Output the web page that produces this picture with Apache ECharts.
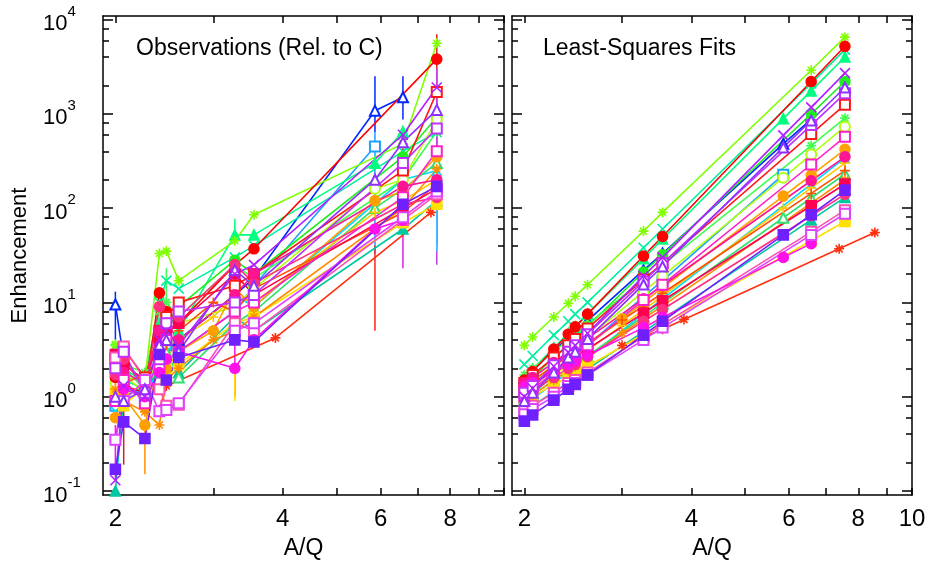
<!DOCTYPE html>
<html>
<head>
<meta charset="utf-8">
<title>Enhancement vs A/Q</title>
<script src="https://cdn.jsdelivr.net/npm/echarts@6/dist/echarts.min.js"></script>
<style>
  html, body { margin: 0; padding: 0; background: #fff; }
  #chart { width: 929px; height: 564px; }
</style>
</head>
<body>
<div id="chart"></div>
<script>
// A/Q columns (one per element group)
const aq = [2.0, 2.07, 2.26, 2.4, 2.47, 2.6, 3.0, 3.28, 3.55, 3.88, 5.86, 6.58, 7.57];

const eventColors = ['#1ca0ff', '#00d8ff', '#0028ff', '#00ff80', '#00f0a0', '#00c8a0', '#30e070', '#20f020',
  '#40ff50', '#b0ff10', '#80ff00', '#ffe000', '#ffc800', '#ffa000', '#ff8c00', '#ff5000',
  '#ff0000', '#ff1818', '#ff0050', '#ff3080', '#ff1493', '#ff50b0', '#ff20c8', '#ff10e8',
  '#e040ff', '#c030ff', '#9030ff', '#b020ff', '#7020ff'];
const eventSymbols = ['sqO', 'x', 'triO', 'triF', 'x', 'triF', 'triO', 'circ',
  'ast', 'circO', 'ast', 'sqF', 'plus', 'circ', 'ast', 'plus',
  'circ', 'sqO', 'sqF', 'circ', 'circ', 'sqO', 'sqO', 'circ',
  'sqO', 'sqO', 'triO', 'x', 'sqF'];

// observed enhancements (left panel), same order as aq; null = not measured
const obsValues = [
  [0.8, 1.4, 1.0, 2.2, 3.5, 3, null, 8, 15, null, 450, null, null],
  [0.7, 1.2, 1.0, 2, 3, 4, null, 12, 9, null, null, 200, 250],
  [9.5, 2.5, 1.3, 3, 4, 4, null, 12, 18, null, 1080, 1500, null],
  [2.2, 1.5, 1.2, 6, 8, 5, null, 52, 52, null, 300, 650, null],
  [2.5, 2.0, 1.4, 10, 17, 14, null, 30, 40, null, null, 400, 640],
  [0.1, 1.0, 1.3, 1.8, 2.2, 1.8, null, 7, 5, null, null, 60, 120],
  [3.2, 2.0, 1.2, 5, 3, 1.6, null, 6, 8, null, 100, 160, 300],
  [1.8, 2.4, 1.3, 5, 6, 9, null, 28, 20, null, null, 350, 920],
  [3.5, 2.2, 1.8, 8, 10, 7, null, 25, 18, null, null, 200, 650],
  [1.4, 1.7, 1.1, 3, 2.5, 6, null, 9, 14, null, 160, 200, 870],
  [3.6, 1.6, 1.5, 33, 35, 17, null, 45, 85, null, null, 480, 5600],
  [1.1, 0.8, 1.3, 2.0, 1.6, 2.2, null, 6, 7, null, null, 70, 110],
  [1.5, 1.1, 1.3, 3, 2.5, 4, 7, 12, 10, null, 90, 120, 200],
  [0.6, 1.0, 0.5, 2.5, 2, 3, 5, 14, 9, null, 120, 150, 350],
  [1.2, 0.9, 0.69, 0.5, 1.5, 2.0, 4, 5, 7, null, null, 100, 260],
  [1.8, 1.4, 1.7, 2.5, 3.5, 5, 10, 8, 14, null, null, 90, 180],
  [1.6, 1.3, 1.1, 12.6, 8, 6, null, 25, 37, null, null, null, 3800],
  [2.5, 3.2, 1.6, 5, 7, 10, null, 15, 20, null, null, 250, 1700],
  [2.8, 2.2, 1.5, 4, 5, 6, null, 20, 12, null, null, 100, 160],
  [1.7, 2.5, 1.2, 9, 4, 7, null, 25, 16, null, null, 110, 130],
  [2.0, 1.8, 1.4, 5, 6, 4, null, 12, 20, null, null, 170, 200],
  [2.6, 3.4, 1.5, 1.2, 0.8, 0.82, null, 6, 5, null, null, 75, 140],
  [0.9, 1.5, 0.85, 2.0, 4, 3, null, 8, 10, null, null, 130, 400],
  [0.35, 1.2, 1.0, 1.8, 2.5, 3, null, 2.0, 4, null, 60, 75, null],
  [0.35, 0.9, 1.5, 0.7, 0.72, 0.85, null, 5, 6, null, null, 80, 150],
  [2.0, 3.0, 1.1, 2.5, 6, 8, null, 10, 12, null, null, 300, 700],
  [1.0, 0.9, 1.2, 3.5, 4, 3, null, 22, 15, null, 200, 500, 1100],
  [0.13, 1.3, 1.0, 4, 5, 3.5, null, 20, 25, null, null, 600, 1900],
  [0.17, 0.54, 0.36, 2.8, 1.5, 2.6, null, 4.0, 3.8, null, null, 110, 170]
];

// least-squares fit values (right panel)
const fitValues = [
  [0.9, 1.07, 1.7, 2.3, 2.7, 3.5, null, 11.5, 17, null, 226, null, null],
  [0.8, 0.94, 1.4, 1.8, 2.1, 2.6, null, 7.6, 10.9, null, null, 180, 340],
  [1.6, 1.9, 3.1, 4.2, 4.9, 6.4, null, 22, 33, null, 480, 875, null],
  [1.6, 1.95, 3.3, 4.7, 5.5, 7.5, null, 29, 47, null, 890, 1750, 4000],
  [2.2, 2.7, 4.5, 6.3, 7.5, 10, null, 38, 60, null, null, 2100, 4800],
  [0.7, 0.8, 1.13, 1.4, 1.6, 1.96, null, 4.9, 6.65, null, null, 75, 130],
  [0.9, 1.04, 1.5, 1.9, 2.2, 2.7, null, 7.1, 9.8, null, 79, 128, 230],
  [1.3, 1.6, 2.6, 3.6, 4.2, 5.6, null, 21, 32, null, null, 1000, 2200],
  [1.7, 2.0, 3.0, 4.0, 4.6, 5.8, null, 17.5, 25, null, null, 460, 900],
  [1.2, 1.4, 2.2, 2.9, 3.3, 4.2, null, 13, 19, null, 210, 370, 730],
  [3.5, 4.3, 7.0, 9.8, 11.6, 15.4, null, 57, 90, null, null, 2900, 6500],
  [0.9, 1.0, 1.35, 1.6, 1.8, 2.1, null, 4.6, 5.9, null, null, 45, 72],
  [1.0, 1.16, 1.7, 2.2, 2.5, 3.1, 5.7, 8.3, 11.7, null, 100, 164, 300],
  [1.1, 1.3, 1.9, 2.5, 2.8, 3.5, 6.7, 10, 14.3, null, 134, 223, 420],
  [0.9, 1.04, 1.5, 1.9, 2.1, 2.6, 4.7, 6.7, 9.2, null, null, 113, 200],
  [1.3, 1.5, 2.1, 2.7, 3.0, 3.7, 6.5, 9.2, 12.5, null, null, 143, 250],
  [1.5, 1.85, 3.2, 4.6, 5.5, 7.5, null, 31, 50, null, null, 2200, 5200],
  [1.4, 1.7, 2.6, 3.5, 4.1, 5.3, null, 17.5, 26, null, null, 610, 1250],
  [1.2, 1.4, 1.9, 2.4, 2.7, 3.2, null, 7.7, 10.4, null, null, 106, 180],
  [1.0, 1.14, 1.6, 2.0, 2.2, 2.65, null, 6.3, 8.4, null, null, 83, 140],
  [1.4, 1.6, 2.3, 3.0, 3.4, 4.15, null, 10.9, 15.1, null, null, 195, 350],
  [0.7, 0.8, 1.1, 1.4, 1.5, 1.8, null, 4.35, 5.8, null, null, 56, 95],
  [1.0, 1.2, 1.8, 2.4, 2.7, 3.5, null, 10.6, 15.4, null, null, 290, 570],
  [1.27, 1.4, 1.8, 2.2, 2.4, 2.75, null, 5.4, 6.9, null, 30, 42, null],
  [0.65, 0.74, 1.0, 1.3, 1.4, 1.7, null, 4.0, 5.4, null, null, 52, 87],
  [1.1, 1.3, 2.15, 3.0, 3.5, 4.6, null, 16.7, 26, null, null, 760, 1650],
  [0.9, 1.1, 1.8, 2.6, 3.0, 4.1, null, 15.5, 24, null, 440, 850, 1900],
  [1.0, 1.23, 2.1, 2.95, 3.5, 4.7, null, 19, 30, null, 590, 1170, 2700],
  [0.55, 0.64, 0.92, 1.2, 1.35, 1.7, null, 4.5, 6.3, null, 52, 85, 155]
];

// one event measured at its own A/Q values (red asterisks)
const redObsX = [2.4, 2.47, 3.88, 7.39];
const redObs = [0.73, 1.3, 4.2, 90];
const redFitX = [3.0, 3.55, 3.88, 7.39, 8.57];
const redFit = [3.5, 5.2, 6.6, 37, 55];

// error bars on the observations
const errX = [2.0, 2.0, 2.07, 2.26, 2.47, 3.28, 3.28, 3.28, 5.86, 5.86, 5.86, 6.58, 6.58, 6.58, 7.57, 7.57, 7.57];
const errLo = [4, 0.14, 0.19, 0.15, 10, 52, 1.0, 0.9, 33, 640, 5, 870, 23, 90, 40, 25, 35];
const errHi = [13, 0.5, 1.8, 0.5, 23, 77, 25, 2, 640, 2500, 40, 2500, 430, 600, 7000, 3000, 200];
const errColors = ['#0028ff', '#ff10e8', '#d02020', '#ff9000', '#40ff50', '#00ff80', '#ff10e8', '#ffe000',
  '#1ca0ff', '#0028ff', '#ff2020', '#0028ff', '#e020e0', '#ff2020', '#e02020', '#c040e0', '#40c0ff'];

const decades = [0.1, 1, 10, 100, 1000, 10000];
const minorY = [0.2, 0.4, 0.6, 0.8, 2, 4, 6, 8, 20, 40, 60, 80, 200, 400, 600, 800, 2000, 4000, 6000, 8000];
const xTicks = [2, 3, 4, 5, 6, 7, 8, 9, 10];
const xLabelsLeft = [2, 4, 6, 8];
const xLabelsRight = [2, 4, 6, 8, 10];

const FONT = '"Liberation Sans", Arial, sans-serif';
const yMin = 0.0906;
const yMax = 10900;

const symbolMap = {
  triO: 'emptyTriangle',
  triF: 'triangle',
  sqO: 'emptyRect',
  sqF: 'rect',
  circ: 'circle',
  circO: 'emptyCircle',
  x: 'path://M0,0L10,10M10,0L0,10',
  ast: 'path://M5,0L5,10M0,5L10,5M1.5,1.5L8.5,8.5M8.5,1.5L1.5,8.5',
  plus: 'path://M5,0L5,10M0,5L10,5'
}

function pairs(xs, ys) {
  return xs.map((x, i) => [x, ys[i]]).filter(d => d[1] != null)
}

function lineSeries(xIdx, yIdx, data, color, sym) {
  return {
    type: 'line',
    xAxisIndex: xIdx,
    yAxisIndex: yIdx,
    data: data,
    symbol: symbolMap[sym],
    symbolSize: 10,
    lineStyle: { color: color, width: 1.6 },
    itemStyle: { color: color, borderColor: color, borderWidth: 1.6 },
    emphasis: { disabled: true },
    animation: false
  }
}

function xAxisDef(grid, pos, labels, name) {
  return {
    type: 'log',
    gridIndex: grid,
    position: pos,
    min: 1.9,
    max: 10,
    name: name,
    nameLocation: 'middle',
    nameGap: 42,
    nameTextStyle: { fontSize: 23, fontFamily: FONT, color: '#000' },
    axisLine: { show: true, onZero: false, lineStyle: { color: '#000', width: 1.5 } },
    axisTick: { show: true, inside: true, length: 7, customValues: xTicks, lineStyle: { color: '#000', width: 1.5 } },
    axisLabel: labels ? {
      show: true, customValues: labels, margin: 12,
      fontSize: 24, fontFamily: FONT, color: '#000',
      formatter: v => String(Math.round(v))
    } : { show: false },
    splitLine: { show: false }
  }
}

function yAxisDef(grid, pos, major, labels) {
  return {
    type: 'log',
    gridIndex: grid,
    position: pos,
    min: yMin,
    max: yMax,
    name: labels ? 'Enhancement' : '',
    nameLocation: 'middle',
    nameGap: 72,
    nameTextStyle: { fontSize: 22, fontFamily: FONT, color: '#000' },
    axisLine: { show: major, onZero: false, lineStyle: { color: '#000', width: 1.5 } },
    axisTick: {
      show: true, inside: true, length: major ? 10 : 6,
      customValues: major ? decades : minorY,
      lineStyle: { color: '#000', width: 1.5 }
    },
    axisLabel: labels ? {
      show: true, customValues: decades, margin: 60, align: 'left',
      formatter: v => '{b|10}{e|' + Math.round(Math.log10(v)) + '}',
      rich: {
        b: { fontSize: 22, fontFamily: FONT, color: '#000', verticalAlign: 'bottom', padding: [9, 0, 0, 0] },
        e: { fontSize: 15, fontFamily: FONT, color: '#000', verticalAlign: 'top' }
      }
    } : { show: false },
    splitLine: { show: false }
  }
}

const chart = echarts.init(document.getElementById('chart'), null, { renderer: 'canvas' });

const series = [];
// error bars first, under the lines
series.push({
  type: 'custom',
  xAxisIndex: 0,
  yAxisIndex: 0,
  data: errX.map((x, i) => [x, errLo[i], errHi[i]]),
  encode: { x: 0, y: [1, 2] },
  renderItem: function (params, api) {
    const p1 = api.coord([api.value(0), api.value(1)]);
    const p2 = api.coord([api.value(0), api.value(2)]);
    return {
      type: 'line',
      shape: { x1: p1[0], y1: p1[1], x2: p2[0], y2: p2[1] },
      style: { stroke: errColors[params.dataIndex], lineWidth: 1.5 }
    }
  },
  animation: false
});
series.push(lineSeries(0, 0, pairs(redObsX, redObs), '#ff3010', 'ast'));
series.push(lineSeries(2, 4, pairs(redFitX, redFit), '#ff3010', 'ast'));
eventColors.forEach((c, k) => {
  series.push(lineSeries(0, 0, pairs(aq, obsValues[k]), c, eventSymbols[k]));
  series.push(lineSeries(2, 4, pairs(aq, fitValues[k]), c, eventSymbols[k]));
});

const option = {
  backgroundColor: '#fff',
  animation: false,
  grid: [
    { left: 103, top: 16, width: 401, height: 479, outerBoundsMode: 'none', containLabel: false },
    { left: 512, top: 16, width: 400, height: 479, outerBoundsMode: 'none', containLabel: false }
  ],
  xAxis: [
    xAxisDef(0, 'bottom', xLabelsLeft, 'A/Q'),
    xAxisDef(0, 'top', null, ''),
    xAxisDef(1, 'bottom', xLabelsRight, 'A/Q'),
    xAxisDef(1, 'top', null, '')
  ],
  yAxis: [
    yAxisDef(0, 'left', true, true),
    yAxisDef(0, 'left', false, false),
    yAxisDef(0, 'right', true, false),
    yAxisDef(0, 'right', false, false),
    yAxisDef(1, 'left', true, false),
    yAxisDef(1, 'left', false, false),
    yAxisDef(1, 'right', true, false),
    yAxisDef(1, 'right', false, false)
  ],
  graphic: [
    { type: 'text', left: 136, top: 37, style: { text: 'Observations (Rel. to C)', fontSize: 23, fontFamily: FONT, fill: '#000' } },
    { type: 'text', left: 543, top: 37, style: { text: 'Least-Squares Fits', fontSize: 23, fontFamily: FONT, fill: '#000' } }
  ],
  series: series
};

chart.setOption(option);
</script>
</body>
</html>
